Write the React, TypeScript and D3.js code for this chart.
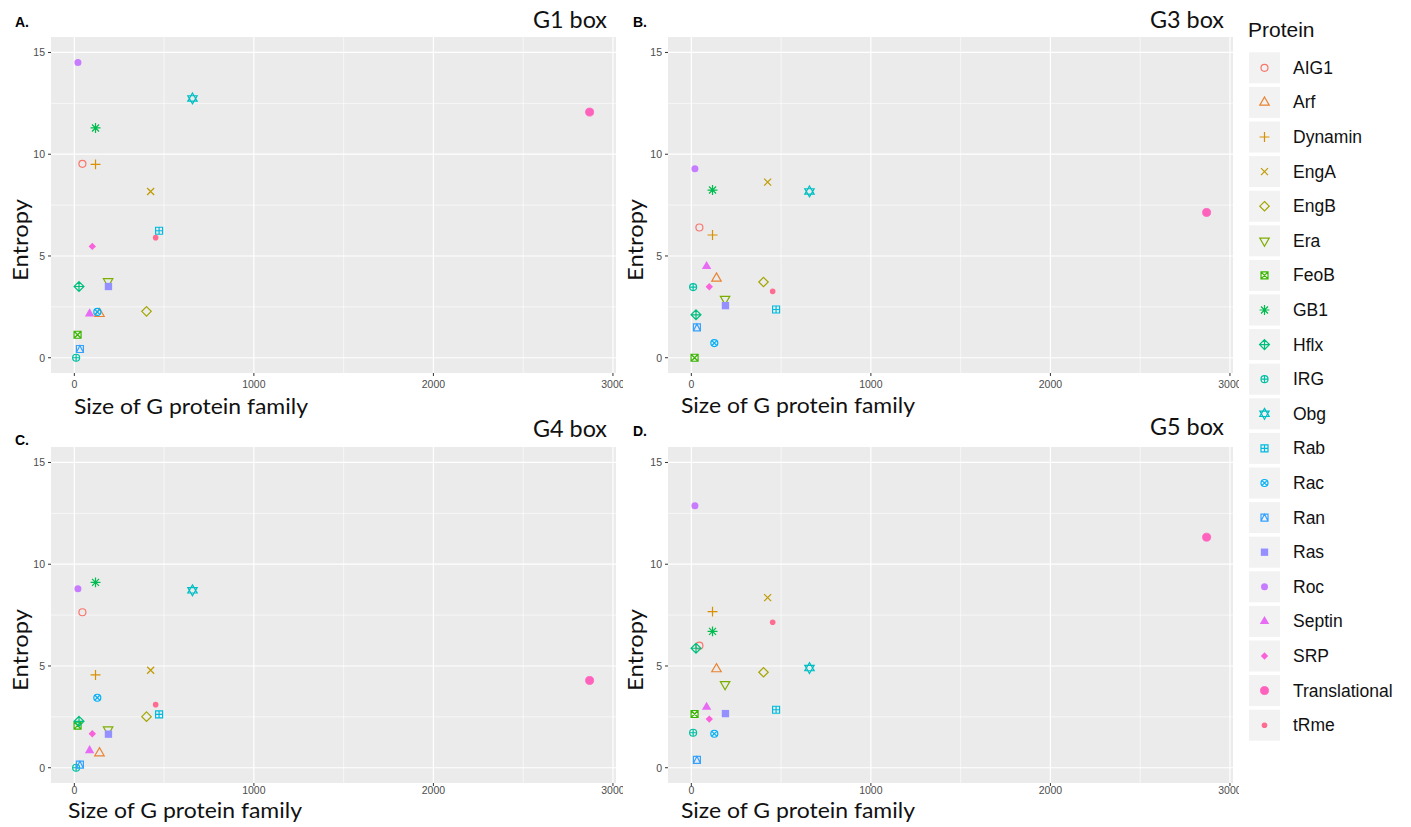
import React from "react";
import * as d3 from "d3";

const proteins = ["AIG1","Arf","Dynamin","EngA","EngB","Era","FeoB","GB1","Hflx","IRG","Obg","Rab","Rac","Ran","Ras","Roc","Septin","SRP","Translational","tRme"];
const colors = ["#F8766D","#EA8331","#D89000","#C09B00","#A3A500","#7CAE00","#39B600","#00BB4E","#00BF7D","#00C1A3","#00BFC4","#00BAE0","#00B0F6","#35A2FF","#9590FF","#C77CFF","#E76BF3","#FA62DB","#FF62BC","#FF6C91"];
const shapes = [1,2,3,4,5,6,7,8,9,10,11,12,13,14,15,16,17,18,19,20];
const familySize = [45,140,118,425,402,188,18,118,26,10,658,472,128,31,190,20,85,100,2870,453];
const entropyG1 = [9.53,2.16,9.5,8.17,2.28,3.75,1.13,11.29,3.5,0.0,12.74,6.24,2.25,0.43,3.5,14.51,2.16,5.47,12.07,5.9];
const entropyG3 = [6.4,3.9,6.03,8.63,3.72,2.88,0.0,8.24,2.11,3.47,8.17,2.37,0.72,1.49,2.56,9.29,4.49,3.49,7.14,3.26];
const entropyG4 = [7.64,0.72,4.56,4.79,2.51,1.87,2.07,9.11,2.28,0.0,8.72,2.62,3.44,0.15,1.65,8.8,0.85,1.67,4.29,3.1];
const entropyG5 = [6.0,4.85,7.67,8.36,4.69,4.1,2.64,6.7,5.87,1.72,4.9,2.85,1.67,0.39,2.66,12.87,2.98,2.39,11.33,7.15];
const xTicks = [0,1000,2000,3000];
const xMinor = [500,1500,2500];
const yTicks = [0,5,10,15];
const yMinor = [2.5,7.5,12.5];

const panels = [
  { letter: "A.", title: "G1 box", values: entropyG1, x: 51, y: 37, lx: 15, ly: 27, ty: 28, xtX: 74, xtY: 414, etX: 28, tickOff: 15 },
  { letter: "B.", title: "G3 box", values: entropyG3, x: 668, y: 37, lx: 633, ly: 27, ty: 28, xtX: 681, xtY: 413, etX: 643, tickOff: 15 },
  { letter: "C.", title: "G4 box", values: entropyG4, x: 51, y: 447, lx: 15, ly: 445, ty: 437, xtX: 68, xtY: 818, etX: 28, tickOff: 11 },
  { letter: "D.", title: "G5 box", values: entropyG5, x: 668, y: 447, lx: 633, ly: 436, ty: 435, xtX: 681, xtY: 818, etX: 643, tickOff: 11 },
];

const PW = 565, PH = 336;
const R = 3.5;

function Glyph({ shape, color, cx, cy }: { shape: number; color: string; cx: number; cy: number }) {
  const sw = 1.2;
  const o = { fill: "none", stroke: color, strokeWidth: sw };
  const f = { fill: color, stroke: "none" };
  const tri = (r: number, up: boolean) => {
    const xc = r * 0.866, yc = r / 2;
    return up ? `M0,${-r}L${xc},${yc}L${-xc},${yc}Z` : `M0,${r}L${xc},${-yc}L${-xc},${-yc}Z`;
  };
  const sq = (h: number) => `M${-h},${-h}H${h}V${h}H${-h}Z`;
  const dia = (h: number) => `M0,${-h}L${h},0L0,${h}L${-h},0Z`;
  const plus = (h: number) => `M${-h},0H${h}M0,${-h}V${h}`;
  const cross = (h: number) => `M${-h},${-h}L${h},${h}M${-h},${h}L${h},${-h}`;
  let el: React.ReactNode = null;
  const rt = R * 1.555;
  switch (shape) {
    case 1: el = <circle r={R} {...o} />; break;
    case 2: el = <path d={tri(rt, true)} {...o} />; break;
    case 3: el = <path d={plus(R * 1.414)} {...o} />; break;
    case 4: el = <path d={cross(R)} {...o} />; break;
    case 5: el = <path d={dia(R * 1.35)} {...o} />; break;
    case 6: el = <path d={tri(rt, false)} {...o} />; break;
    case 7: el = <path d={sq(R) + cross(R)} {...o} />; break;
    case 8: el = <path d={cross(R) + plus(R * 1.414)} {...o} />; break;
    case 9: el = <path d={dia(R * 1.414) + plus(R * 1.414)} {...o} />; break;
    case 10: el = <g><circle r={R} {...o} /><path d={plus(R)} {...o} /></g>; break;
    case 11: el = <path d={tri(R * 1.55, true) + tri(R * 1.55, false)} {...o} />; break;
    case 12: el = <path d={sq(R) + plus(R)} {...o} />; break;
    case 13: el = <g><circle r={R} {...o} /><path d={cross(R * 0.7)} {...o} /></g>; break;
    case 14: el = <path d={sq(R) + `M${-R},${R}L0,${-R}L${R},${R}`} {...o} />; break;
    case 15: el = <path d={sq(R * 1.05)} {...f} />; break;
    case 16: el = <circle r={R} {...f} />; break;
    case 17: el = <path d={tri(rt, true)} {...f} />; break;
    case 18: el = <path d={dia(R * 1.05)} {...f} />; break;
    case 19: el = <circle r={R * 1.15} fill={color} stroke={color} strokeWidth={0.8} />; break;
    case 20: el = <circle r={R * 0.8} {...f} />; break;
  }
  return <g transform={`translate(${cx},${cy})`}>{el}</g>;
}

const calibri = "Lato, 'Open Sans', sans-serif";
const arial = "'Liberation Sans', Arial, sans-serif";

function Panel({ p }: { p: typeof panels[number] }) {
  const x = d3.scaleLinear().domain([-130, 3017]).range([p.x, p.x + PW]);
  const y = d3.scaleLinear().domain([-0.75, 15.76]).range([p.y + PH, p.y]);
  const clipId = "clip" + p.letter[0];
  const clipRight = p.x < 600 ? 623 : 1239;
  return (
    <g>
      <defs>
        <clipPath id={clipId}><rect x={p.x - 60} y={p.y - 40} width={clipRight - p.x + 60} height={PH + 120} /></clipPath>
      </defs>
      <g clipPath={`url(#${clipId})`}>
        <rect x={p.x} y={p.y} width={PW} height={PH} fill="#EBEBEB" />
        {xMinor.map((t) => <line key={"xm" + t} x1={x(t)} x2={x(t)} y1={p.y} y2={p.y + PH} stroke="#fff" strokeWidth={0.6} />)}
        {yMinor.map((t) => <line key={"ym" + t} y1={y(t)} y2={y(t)} x1={p.x} x2={p.x + PW} stroke="#fff" strokeWidth={0.6} />)}
        {xTicks.map((t) => <line key={"xM" + t} x1={x(t)} x2={x(t)} y1={p.y} y2={p.y + PH} stroke="#fff" strokeWidth={1.2} />)}
        {yTicks.map((t) => <line key={"yM" + t} y1={y(t)} y2={y(t)} x1={p.x} x2={p.x + PW} stroke="#fff" strokeWidth={1.2} />)}
        {xTicks.map((t) => (
          <g key={"xt" + t}>
            <line x1={x(t)} x2={x(t)} y1={p.y + PH} y2={p.y + PH + 3} stroke="#333" strokeWidth={1} />
            <text x={x(t)} y={p.y + PH + p.tickOff} textAnchor="middle" fontSize={10.5} fill="#4D4D4D" fontFamily={arial}>{t}</text>
          </g>
        ))}
        {yTicks.map((t) => (
          <g key={"yt" + t}>
            <line x1={p.x - 3} x2={p.x} y1={y(t)} y2={y(t)} stroke="#333" strokeWidth={1} />
            <text x={p.x - 6} y={y(t) + 4} textAnchor="end" fontSize={10.5} fill="#4D4D4D" fontFamily={arial}>{t}</text>
          </g>
        ))}
        {proteins.map((name, i) => (
          <Glyph key={name} shape={shapes[i]} color={colors[i]} cx={x(familySize[i])} cy={y(p.values[i])} />
        ))}
      </g>
      <text x={p.lx} y={p.ly} fontSize={14} fontWeight="bold" fontFamily={arial} fill="#000">{p.letter}</text>
      <text x={p.x + PW - 9} y={p.ty} textAnchor="end" fontSize={23} fontFamily={calibri} fill="#111" textLength={74} lengthAdjust="spacingAndGlyphs">{p.title}</text>
      <text x={p.xtX} y={p.xtY} fontSize={21} fontFamily={calibri} fill="#111" textLength={234} lengthAdjust="spacingAndGlyphs">Size of G protein family</text>
      <text transform={`translate(${p.etX},${p.y + PH / 2 + 35}) rotate(-90)`} textAnchor="middle" fontSize={22} fontFamily={calibri} fill="#111" textLength={82} lengthAdjust="spacingAndGlyphs">Entropy</text>
    </g>
  );
}

function Legend() {
  const kx = 1249, ky0 = 52.3, step = 34.6, ks = 31;
  return (
    <g>
      <text x={1248} y={37} fontSize={21} fontFamily={arial} fill="#111">Protein</text>
      {proteins.map((name, i) => {
        const ky = ky0 + i * step;
        return (
          <g key={name}>
            <rect x={kx} y={ky} width={ks} height={ks} fill="#F2F2F2" />
            <Glyph shape={shapes[i]} color={colors[i]} cx={kx + ks / 2} cy={ky + ks / 2} />
            <text x={1293} y={ky + ks / 2 + 6} fontSize={17.5} fontFamily={arial} fill="#111">{name}</text>
          </g>
        );
      })}
    </g>
  );
}

export default function App() {
  return (
    <svg width={1411} height={827} style={{ position: "absolute", left: 0, top: 0, background: "#fff" }}>
      <rect width={1411} height={827} fill="#fff" />
      {panels.map((p) => <Panel key={p.letter} p={p} />)}
      <Legend />
    </svg>
  );
}
